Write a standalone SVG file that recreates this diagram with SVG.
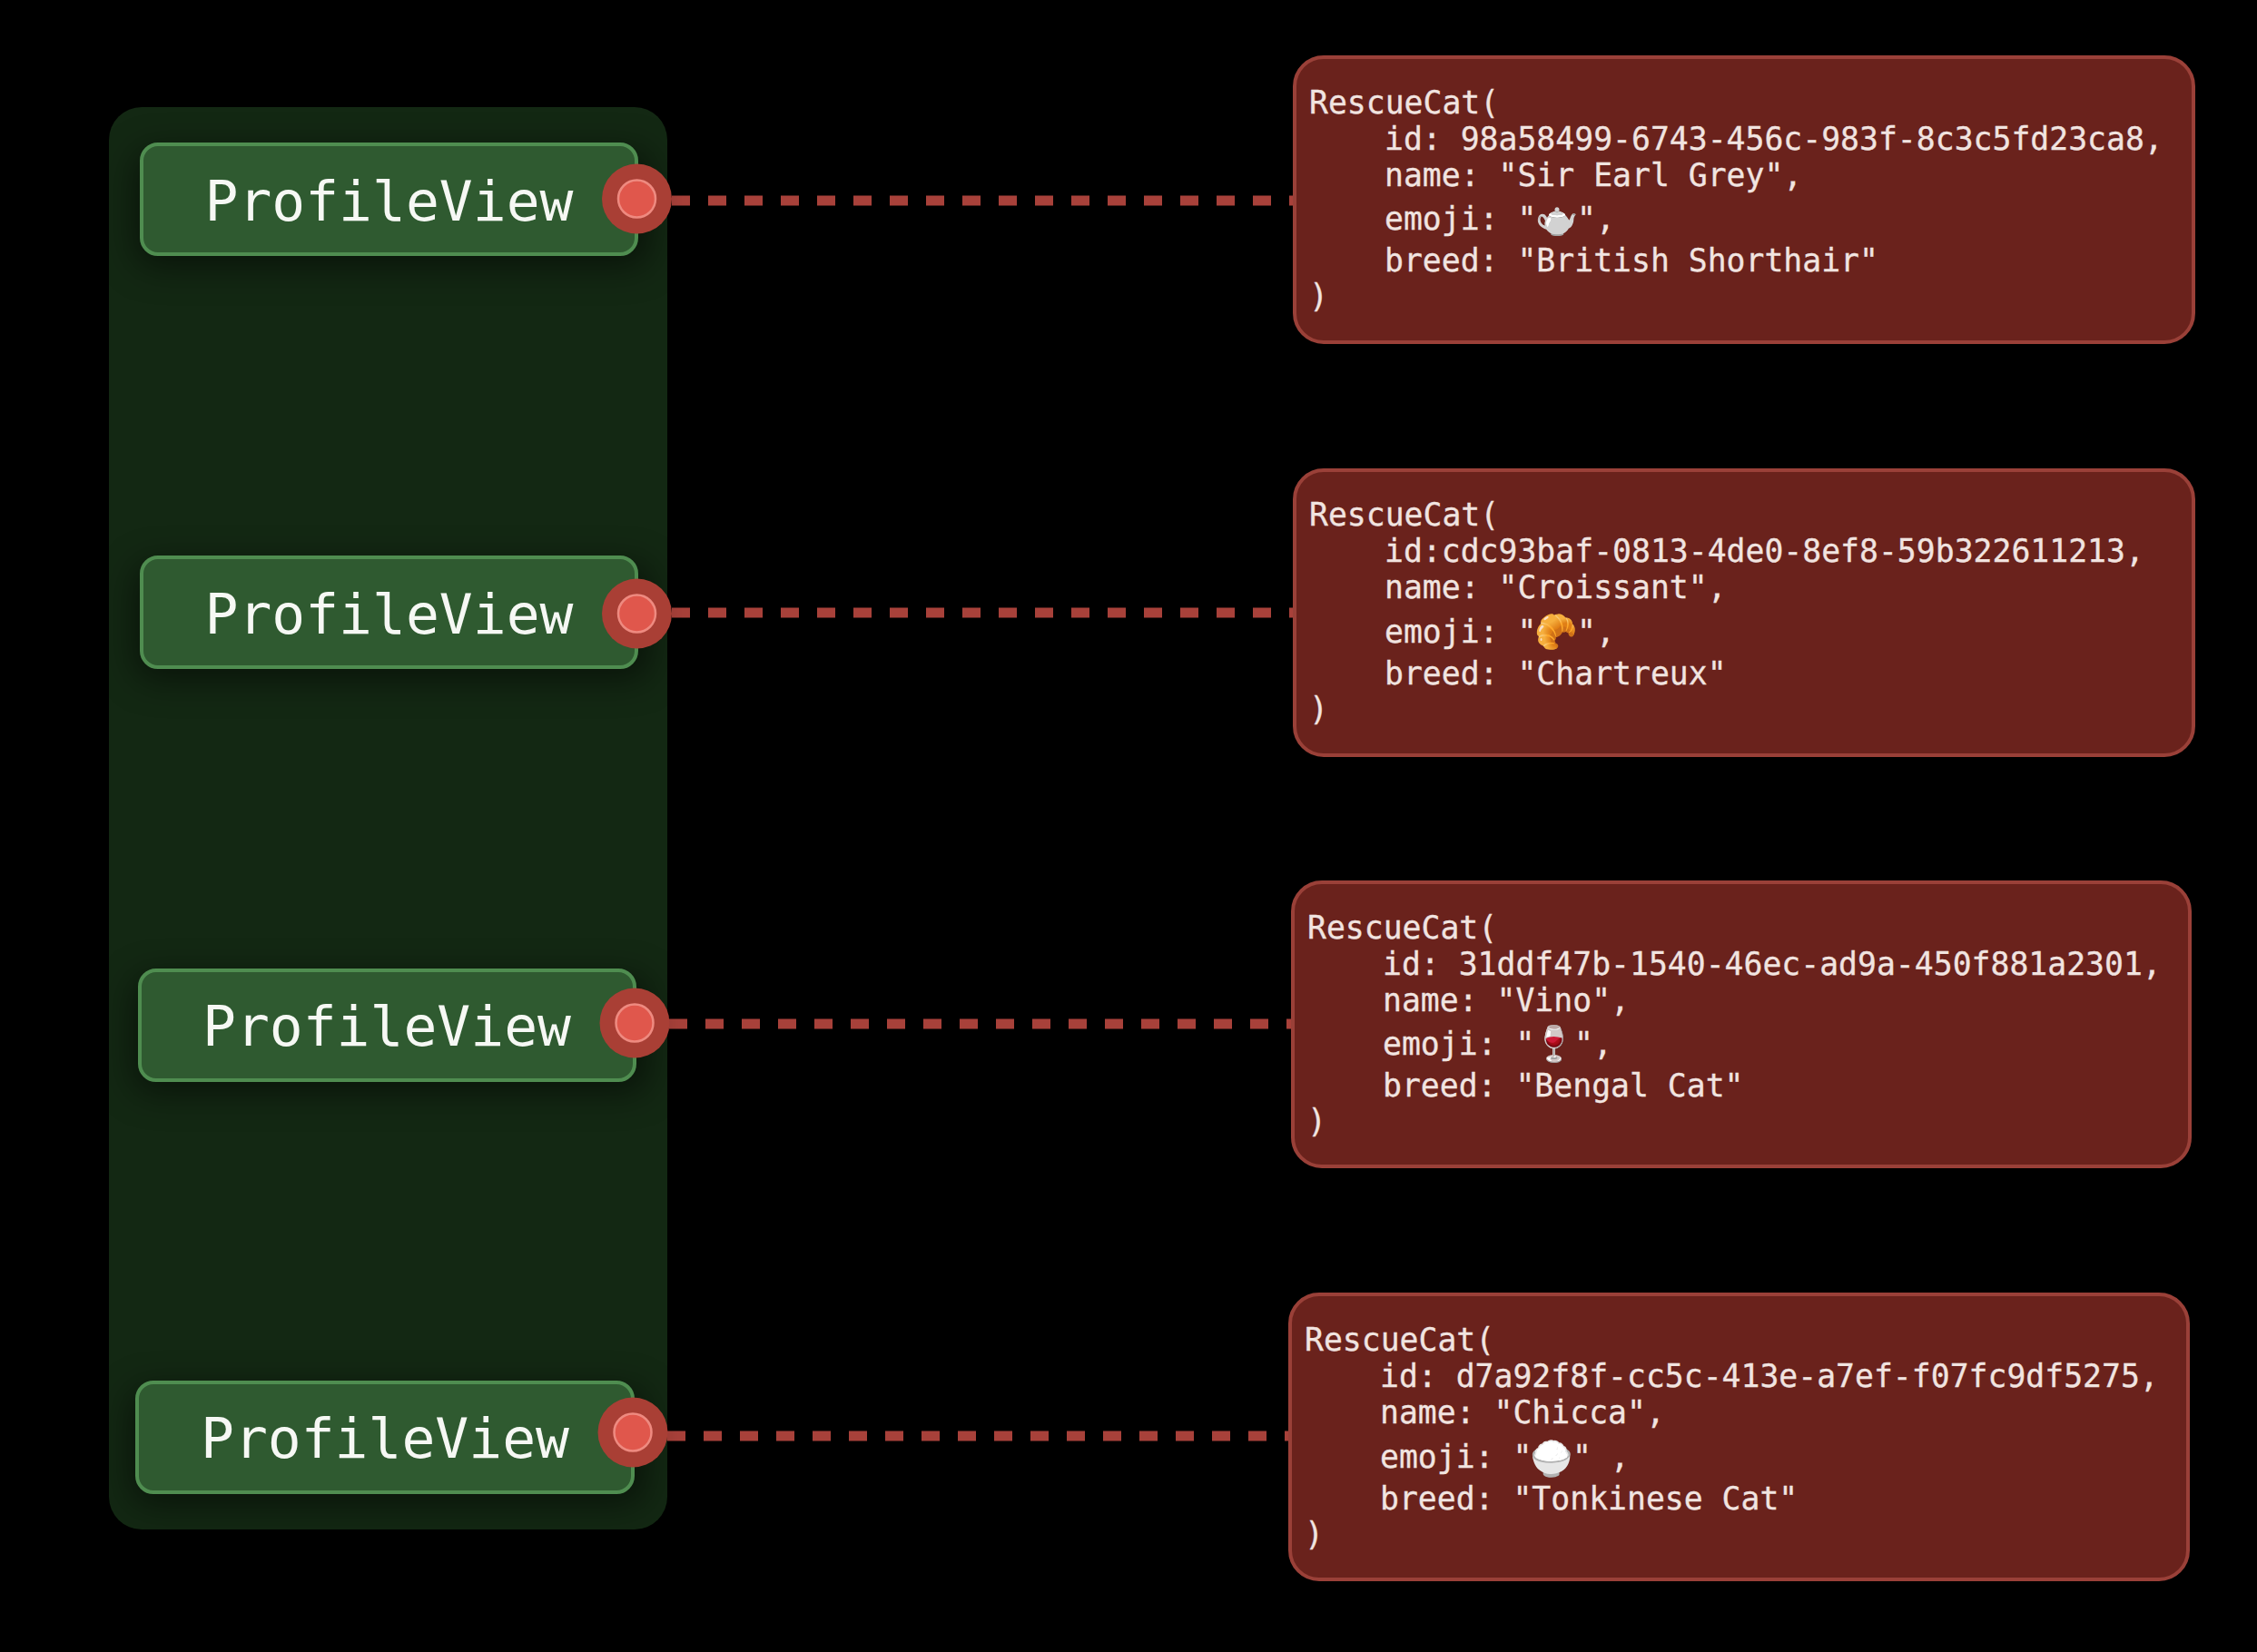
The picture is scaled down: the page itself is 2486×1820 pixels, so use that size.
<svg xmlns="http://www.w3.org/2000/svg" width="2486" height="1820" viewBox="0 0 2486 1820">
<style>
.pv{fill:#2f5a30;stroke:#4f8d50;stroke-width:4}
.pt{font-family:"DejaVu Sans Mono",monospace;font-size:61.3px;fill:#f6f8f4}
.cb{fill:#6a221c;stroke:#9a4038;stroke-width:4}
.ct{font-family:"DejaVu Sans Mono",monospace;font-size:34.75px;fill:#f1e4e0;stroke:#f1e4e0;stroke-width:.3}
.em{font-family:"Noto Color Emoji","DejaVu Sans Mono",sans-serif;font-size:38px;text-anchor:middle}
.white{filter:grayscale(1) brightness(1.75)}
.rice{filter:grayscale(1) brightness(1.15)}
.po{fill:#a93f35}
.pi{fill:#e0574c;stroke:#ee8a80;stroke-width:2.5}
.dash{stroke:#a8413a;stroke-width:11;fill:none;stroke-dasharray:20 20}
.sd{fill:#000;opacity:.55}
</style>
<defs>
<filter id="sh" x="-20%" y="-60%" width="140%" height="220%"><feGaussianBlur stdDeviation="20"/></filter>
</defs>
<rect width="2486" height="1820" fill="#000"/>
<g id="container"><rect x="120" y="118" width="615" height="1567" rx="36" fill="#132813"/></g>
<g id="connectors">
<path class="dash" d="M740 221H1426"/>
<path class="dash" d="M740 675H1426"/>
<path class="dash" d="M737 1128H1424"/>
<path class="dash" d="M735 1582H1420"/>
</g>
<g id="profile1"><rect class="sd" x="150" y="168" width="565" height="124" rx="16" filter="url(#sh)"/><rect class="pv" x="156" y="159" width="545" height="121" rx="18"/><text class="pt" x="225.500" y="243">ProfileView</text><circle class="po" cx="701.500" cy="219" r="38.500"/><circle class="pi" cx="701.500" cy="219" r="20.500"/></g>
<g id="profile2"><rect class="sd" x="150" y="623" width="565" height="124" rx="16" filter="url(#sh)"/><rect class="pv" x="156" y="614" width="545" height="121" rx="18"/><text class="pt" x="225.500" y="698">ProfileView</text><circle class="po" cx="701.500" cy="676" r="38.500"/><circle class="pi" cx="701.500" cy="676" r="20.500"/></g>
<g id="profile3"><rect class="sd" x="148" y="1078" width="565" height="124" rx="16" filter="url(#sh)"/><rect class="pv" x="154" y="1069" width="545" height="121" rx="18"/><text class="pt" x="223" y="1152">ProfileView</text><circle class="po" cx="699" cy="1127" r="38.500"/><circle class="pi" cx="699" cy="1127" r="20.500"/></g>
<g id="profile4"><rect class="sd" x="145" y="1532" width="565" height="124" rx="16" filter="url(#sh)"/><rect class="pv" x="151" y="1523" width="546" height="121" rx="18"/><text class="pt" x="221" y="1606">ProfileView</text><circle class="po" cx="697" cy="1578" r="38.500"/><circle class="pi" cx="697" cy="1578" r="20.500"/></g>
<g id="cat1"><rect class="cb" x="1426" y="63" width="990" height="314" rx="32"/>
<text class="ct" x="1442" y="125">RescueCat(</text><text class="ct" x="1525" y="165">id: 98a58499-6743-456c-983f-8c3c5fd23ca8,</text><text class="ct" x="1525" y="205">name: "Sir Earl Grey",</text><text class="ct" x="1525" y="253">emoji: "</text><text class="em white" x="1715" y="254">🫖</text><text class="ct" x="1737" y="253">",</text><text class="ct" x="1525" y="299">breed: "British Shorthair"</text><text class="ct" x="1442" y="338">)</text></g>
<g id="cat2"><rect class="cb" x="1426" y="518" width="990" height="314" rx="32"/>
<text class="ct" x="1442" y="579">RescueCat(</text><text class="ct" x="1525" y="619">id:cdc93baf-0813-4de0-8ef8-59b322611213,</text><text class="ct" x="1525" y="659">name: "Croissant",</text><text class="ct" x="1525" y="708">emoji: "</text><text class="em" x="1714" y="709">🥐</text><text class="ct" x="1737" y="708">",</text><text class="ct" x="1525" y="754">breed: "Chartreux"</text><text class="ct" x="1442" y="793">)</text></g>
<g id="cat3"><rect class="cb" x="1424" y="972" width="988" height="313" rx="32"/>
<text class="ct" x="1440" y="1034">RescueCat(</text><text class="ct" x="1523" y="1074">id: 31ddf47b-1540-46ec-ad9a-450f881a2301,</text><text class="ct" x="1523" y="1114">name: "Vino",</text><text class="ct" x="1523" y="1162">emoji: "</text><text class="em" x="1712" y="1163">🍷</text><text class="ct" x="1734" y="1162">",</text><text class="ct" x="1523" y="1208">breed: "Bengal Cat"</text><text class="ct" x="1440" y="1247">)</text></g>
<g id="cat4"><rect class="cb" x="1421" y="1426" width="989" height="314" rx="32"/>
<text class="ct" x="1437" y="1488">RescueCat(</text><text class="ct" x="1520" y="1528">id: d7a92f8f-cc5c-413e-a7ef-f07fc9df5275,</text><text class="ct" x="1520" y="1568">name: "Chicca",</text><text class="ct" x="1520" y="1617">emoji: "</text><text class="em rice" x="1709" y="1620">🍚</text><text class="ct" x="1732" y="1617">" ,</text><text class="ct" x="1520" y="1663">breed: "Tonkinese Cat"</text><text class="ct" x="1437" y="1702">)</text></g>
</svg>
